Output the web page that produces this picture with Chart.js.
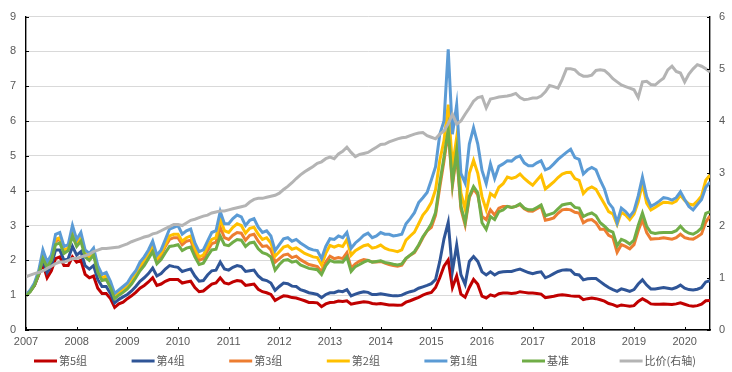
<!DOCTYPE html>
<html>
<head>
<meta charset="utf-8">
<script src="https://cdn.jsdelivr.net/npm/chart.js@4.4.1/dist/chart.umd.min.js"></script>
<style>
html,body{margin:0;padding:0;background:#fff;}
canvas{display:block;}
</style>
</head>
<body>
<canvas id="c" width="732" height="372"></canvas>
<script>
// Monthly categories: 2007-01 .. 2020-07
const months = [];
for (let y = 2007; y <= 2020; y++) {
  for (let m = 1; m <= 12; m++) {
    if (y === 2020 && m > 7) break;
    months.push(y + '-' + String(m).padStart(2, '0'));
  }
}
const yearTicks = [2007,2008,2009,2010,2011,2012,2013,2014,2015,2016,2017,2018,2019,2020];
const seriesNames = ['第5组','第4组','第3组','第2组','第1组','基准','比价(右轴)'];

const g5 = [1.00,1.12,1.28,1.58,1.90,1.50,1.70,2.05,2.10,1.85,1.85,2.10,1.95,2.00,1.60,1.50,1.55,1.20,1.05,1.05,0.90,0.65,0.75,0.80,
0.90,0.98,1.08,1.20,1.28,1.38,1.50,1.28,1.32,1.40,1.45,1.45,1.45,1.35,1.38,1.40,1.22,1.10,1.12,1.22,1.32,1.35,1.50,1.35,
1.32,1.38,1.42,1.40,1.28,1.30,1.32,1.17,1.10,1.07,1.02,0.85,0.92,0.98,0.97,0.93,0.92,0.88,0.84,0.79,0.79,0.78,0.67,0.75,
0.79,0.80,0.83,0.82,0.84,0.74,0.77,0.79,0.81,0.80,0.76,0.75,0.76,0.74,0.72,0.72,0.71,0.72,0.80,0.84,0.89,0.94,1.00,1.05,
1.08,1.22,1.50,1.83,2.01,1.22,1.55,1.03,0.94,1.22,1.45,1.31,0.97,0.92,1.01,0.97,1.04,1.06,1.06,1.05,1.06,1.10,1.08,1.06,
1.06,1.05,1.03,0.93,0.95,0.97,1.00,1.01,1.00,0.98,0.97,0.97,0.87,0.90,0.92,0.90,0.87,0.83,0.76,0.73,0.68,0.72,0.70,0.68,
0.70,0.82,0.90,0.83,0.75,0.74,0.74,0.75,0.74,0.73,0.75,0.78,0.74,0.70,0.68,0.70,0.74,0.84,0.85];
const g4 = [1.00,1.12,1.30,1.62,2.00,1.65,1.85,2.30,2.30,2.00,2.05,2.40,2.15,2.25,1.85,1.75,1.85,1.45,1.25,1.25,1.05,0.78,0.88,0.95,
1.02,1.12,1.25,1.40,1.50,1.62,1.78,1.55,1.62,1.75,1.85,1.82,1.80,1.68,1.72,1.75,1.55,1.40,1.42,1.58,1.70,1.72,1.95,1.75,
1.72,1.80,1.85,1.82,1.68,1.70,1.72,1.55,1.45,1.42,1.35,1.14,1.25,1.35,1.33,1.26,1.25,1.16,1.12,1.07,1.05,1.02,0.93,1.02,
1.07,1.07,1.12,1.10,1.16,0.98,1.03,1.07,1.10,1.08,1.02,1.02,1.04,1.02,1.00,0.98,0.98,1.00,1.06,1.10,1.13,1.20,1.24,1.28,
1.33,1.45,1.97,2.62,3.09,1.69,2.44,1.59,1.31,1.97,2.11,1.97,1.67,1.58,1.67,1.58,1.65,1.67,1.68,1.68,1.72,1.75,1.70,1.65,
1.62,1.65,1.67,1.50,1.55,1.62,1.68,1.72,1.73,1.72,1.60,1.58,1.44,1.47,1.48,1.48,1.39,1.30,1.22,1.16,1.11,1.18,1.15,1.11,
1.16,1.32,1.44,1.29,1.18,1.18,1.20,1.22,1.20,1.18,1.22,1.29,1.20,1.16,1.15,1.17,1.22,1.38,1.42];
const g3 = [1.00,1.12,1.30,1.62,2.10,1.82,2.02,2.55,2.60,2.28,2.32,2.80,2.45,2.65,2.18,2.08,2.22,1.72,1.48,1.52,1.28,0.95,1.05,1.15,
1.25,1.42,1.58,1.80,1.95,2.15,2.38,2.00,2.15,2.40,2.60,2.65,2.65,2.45,2.55,2.58,2.25,2.00,2.05,2.28,2.48,2.52,2.95,2.65,
2.60,2.72,2.80,2.78,2.58,2.72,2.75,2.55,2.40,2.42,2.30,1.95,2.05,2.15,2.18,2.08,2.12,2.02,1.95,1.88,1.85,1.82,1.68,1.95,
2.12,2.05,2.08,2.05,2.22,1.78,1.90,1.98,2.02,2.00,1.95,1.95,1.97,1.92,1.88,1.85,1.83,1.86,2.05,2.15,2.22,2.42,2.65,2.85,
2.95,3.30,4.10,4.85,5.70,4.15,5.05,3.48,3.02,3.80,4.05,3.88,3.26,3.17,3.45,3.30,3.50,3.55,3.55,3.52,3.55,3.60,3.48,3.42,
3.41,3.48,3.55,3.15,3.18,3.22,3.35,3.45,3.47,3.45,3.38,3.36,3.08,3.15,3.17,3.08,2.89,2.89,2.72,2.66,2.23,2.45,2.40,2.33,
2.45,2.85,3.17,2.80,2.61,2.62,2.63,2.65,2.63,2.61,2.65,2.75,2.65,2.62,2.61,2.68,2.76,3.10,3.28];
const g2 = [1.00,1.13,1.32,1.65,2.15,1.85,2.05,2.60,2.65,2.30,2.35,2.85,2.50,2.70,2.20,2.10,2.25,1.75,1.50,1.55,1.30,0.98,1.08,1.18,
1.28,1.45,1.62,1.85,2.00,2.20,2.45,2.05,2.20,2.45,2.70,2.75,2.75,2.55,2.65,2.70,2.35,2.10,2.15,2.40,2.60,2.65,3.20,2.85,
2.80,2.95,3.05,3.00,2.78,2.92,2.95,2.75,2.60,2.65,2.50,2.12,2.25,2.38,2.42,2.32,2.36,2.28,2.20,2.15,2.10,2.08,1.87,2.20,
2.43,2.38,2.43,2.40,2.60,2.15,2.28,2.35,2.42,2.45,2.35,2.38,2.44,2.35,2.30,2.28,2.25,2.30,2.58,2.70,2.81,3.05,3.30,3.45,
3.66,4.03,4.87,5.44,6.47,4.69,5.53,3.94,3.47,4.50,4.87,4.50,3.83,3.45,3.92,3.83,4.10,4.20,4.39,4.35,4.39,4.48,4.35,4.25,
4.16,4.30,4.44,4.05,4.15,4.25,4.38,4.48,4.52,4.53,4.35,4.30,3.92,4.05,4.11,4.04,3.83,3.62,3.40,3.33,3.03,3.38,3.30,3.17,
3.33,3.68,4.20,3.64,3.45,3.52,3.60,3.67,3.66,3.64,3.70,3.87,3.72,3.62,3.59,3.70,3.85,4.30,4.45];
const g1 = [1.00,1.15,1.35,1.70,2.30,1.95,2.15,2.75,2.80,2.40,2.45,3.00,2.60,2.80,2.30,2.20,2.35,1.85,1.60,1.65,1.40,1.05,1.15,1.25,
1.35,1.55,1.70,1.95,2.10,2.30,2.55,2.15,2.30,2.60,2.90,2.95,3.00,2.75,2.85,2.90,2.50,2.25,2.30,2.55,2.80,2.85,3.40,3.05,
3.05,3.20,3.30,3.25,3.00,3.15,3.20,2.95,2.80,2.85,2.70,2.28,2.45,2.62,2.65,2.55,2.60,2.50,2.42,2.34,2.30,2.28,2.05,2.40,
2.62,2.60,2.70,2.65,2.80,2.35,2.50,2.60,2.72,2.78,2.65,2.70,2.80,2.75,2.75,2.70,2.72,2.75,3.05,3.20,3.37,3.66,3.80,3.95,
4.31,4.69,5.62,6.00,8.06,5.62,6.47,4.50,4.22,5.34,5.81,5.34,4.58,4.20,4.77,4.35,4.70,4.77,4.86,4.85,4.95,5.00,4.80,4.72,
4.72,4.80,4.86,4.60,4.65,4.77,4.90,5.00,5.10,5.19,4.95,4.90,4.48,4.60,4.67,4.60,4.30,4.05,3.65,3.50,3.08,3.50,3.40,3.26,
3.42,3.85,4.39,3.83,3.55,3.62,3.70,3.80,3.78,3.73,3.80,3.97,3.75,3.55,3.45,3.60,3.75,4.10,4.25];
const bench = [0.98,1.10,1.28,1.60,2.05,1.80,2.00,2.45,2.50,2.20,2.28,2.70,2.40,2.55,2.10,2.00,2.15,1.65,1.42,1.45,1.22,0.90,1.00,1.08,
1.18,1.32,1.50,1.70,1.85,2.05,2.25,1.90,2.02,2.22,2.40,2.42,2.45,2.28,2.35,2.38,2.10,1.88,1.92,2.12,2.30,2.32,2.70,2.45,
2.42,2.52,2.60,2.58,2.40,2.50,2.52,2.33,2.22,2.18,2.10,1.72,1.88,2.00,2.02,1.95,1.98,1.87,1.82,1.77,1.75,1.73,1.59,1.85,
2.00,1.95,1.96,1.95,2.10,1.68,1.82,1.88,1.95,2.00,1.95,1.97,1.99,1.94,1.92,1.89,1.87,1.90,2.06,2.15,2.25,2.44,2.68,2.85,
3.05,3.37,4.22,4.97,5.76,4.22,5.15,3.56,3.09,3.84,4.12,3.94,3.08,2.89,3.26,3.17,3.40,3.45,3.55,3.52,3.55,3.62,3.50,3.45,
3.45,3.52,3.59,3.28,3.32,3.36,3.48,3.59,3.62,3.64,3.52,3.50,3.26,3.32,3.36,3.28,3.08,2.98,2.86,2.81,2.42,2.60,2.55,2.47,
2.58,3.00,3.36,2.98,2.80,2.77,2.79,2.80,2.80,2.80,2.85,2.98,2.85,2.78,2.75,2.82,2.93,3.35,3.40];
const ratio = [1.02,1.05,1.08,1.10,1.13,1.18,1.22,1.27,1.30,1.30,1.33,1.37,1.37,1.40,1.42,1.45,1.50,1.53,1.56,1.56,1.57,1.58,1.59,1.62,
1.65,1.69,1.72,1.75,1.78,1.80,1.84,1.86,1.90,1.94,1.98,2.02,2.02,2.00,2.05,2.10,2.12,2.15,2.18,2.20,2.24,2.26,2.28,2.28,
2.30,2.32,2.34,2.36,2.38,2.45,2.50,2.52,2.52,2.54,2.56,2.58,2.62,2.69,2.75,2.82,2.90,2.97,3.03,3.08,3.13,3.19,3.22,3.28,
3.31,3.28,3.37,3.42,3.50,3.40,3.32,3.36,3.38,3.40,3.45,3.50,3.55,3.56,3.60,3.63,3.66,3.68,3.69,3.72,3.75,3.77,3.78,3.72,
3.69,3.66,3.75,3.81,3.95,4.13,3.94,4.00,4.13,4.25,4.38,4.45,4.47,4.25,4.42,4.44,4.46,4.47,4.48,4.50,4.53,4.45,4.41,4.42,
4.44,4.44,4.48,4.56,4.68,4.66,4.63,4.80,5.00,5.00,4.98,4.90,4.86,4.86,4.88,4.97,4.98,4.97,4.90,4.81,4.75,4.69,4.66,4.63,
4.60,4.45,4.75,4.76,4.70,4.69,4.76,4.82,4.98,5.05,4.95,4.92,4.75,4.90,5.00,5.08,5.05,5.00,4.94];

const colors = ['#C00000','#2F5597','#ED7D31','#FFC000','#5B9BD5','#70AD47','#B4B4B4'];
const allValues = [g5, g4, g3, g2, g1, bench, ratio];

function toYear(lbl) {
  const p = lbl.split('-');
  return +p[0] + (+p[1] - 1) / 12;
}

const datasets = allValues.map((vals, i) => ({
  label: seriesNames[i],
  data: vals.map((v, k) => ({ x: toYear(months[k]), y: v })),
  borderColor: colors[i],
  backgroundColor: colors[i],
  borderWidth: 3,
  pointRadius: 0,
  tension: 0,
  fill: false,
  yAxisID: i === 6 ? 'y2' : 'y',
  order: 7 - i
}));

const FONT = '"Liberation Sans", Arial, "Noto Sans CJK SC", sans-serif';
const TXT = '#595959';

const innerTicks = {
  id: 'innerTicks',
  afterDraw(chart) {
    const ctx = chart.ctx;
    const a = chart.chartArea;
    const xs = chart.scales.x, yl = chart.scales.y, yr = chart.scales.y2;
    ctx.save();
    ctx.strokeStyle = '#000';
    ctx.lineWidth = 1;
    ctx.beginPath();
    yearTicks.forEach(t => {
      const px = Math.round(xs.getPixelForValue(t)) + 0.5;
      ctx.moveTo(px, a.bottom); ctx.lineTo(px, a.bottom - 3);
    });
    for (let v = 0; v <= 9; v++) {
      const py = Math.round(yl.getPixelForValue(v)) + 0.5;
      ctx.moveTo(a.left, py); ctx.lineTo(a.left + 3, py);
    }
    for (let v = 0; v <= 6; v++) {
      const py = Math.round(yr.getPixelForValue(v)) + 0.5;
      ctx.moveTo(a.right, py); ctx.lineTo(a.right - 3, py);
    }
    ctx.stroke();
    ctx.restore();
  }
};

const slotLegend = {
  id: 'slotLegend',
  afterDraw(chart) {
    const ctx = chart.ctx;
    ctx.save();
    const y = 361;
    chart.data.datasets.forEach((ds, i) => {
      const x0 = 34 + i * 97.6;
      ctx.strokeStyle = ds.borderColor;
      ctx.lineWidth = 3;
      ctx.beginPath();
      ctx.moveTo(x0, y); ctx.lineTo(x0 + 23, y);
      ctx.stroke();
      ctx.fillStyle = TXT;
      ctx.font = '11px "Noto Sans CJK SC", "Liberation Sans", sans-serif';
      ctx.textBaseline = 'middle';
      ctx.textAlign = 'left';
      ctx.fillText(ds.label, x0 + 25, y);
    });
    ctx.restore();
  }
};

new Chart(document.getElementById('c'), {
  type: 'line',
  data: { datasets },
  options: {
    responsive: false,
    animation: false,
    devicePixelRatio: 1,
    layout: { padding: { top: 10, left: 0, right: 0, bottom: 0 } },
    plugins: { legend: { display: false }, tooltip: { enabled: false } },
    scales: {
      x: {
        type: 'linear',
        min: 2007, max: 2020.5,
        afterBuildTicks(scale) { scale.ticks = yearTicks.map(v => ({ value: v })); },
        afterFit(scale) { scale.height = 42; },
        grid: { display: false, drawTicks: false },
        border: { display: true, color: '#000', width: 1.4 },
        ticks: {
          padding: 5, color: TXT, font: { family: FONT, size: 11 },
          maxRotation: 0, autoSkip: false,
          callback: v => String(v)
        }
      },
      y: {
        position: 'left',
        min: 0, max: 9,
        afterFit(scale) { scale.width = 26; },
        ticks: { stepSize: 1, padding: 10, color: TXT, font: { family: FONT, size: 11 } },
        grid: { color: '#D9D9D9', lineWidth: 1, drawTicks: false },
        border: { display: true, color: '#000', width: 1.4 }
      },
      y2: {
        position: 'right',
        min: 0, max: 6,
        afterFit(scale) { scale.width = 22; },
        ticks: { stepSize: 1, padding: 9, color: TXT, font: { family: FONT, size: 11 } },
        grid: { drawOnChartArea: false, drawTicks: false },
        border: { display: true, color: '#000', width: 1.4 }
      }
    }
  },
  plugins: [innerTicks, slotLegend]
});
</script>
</body>
</html>
